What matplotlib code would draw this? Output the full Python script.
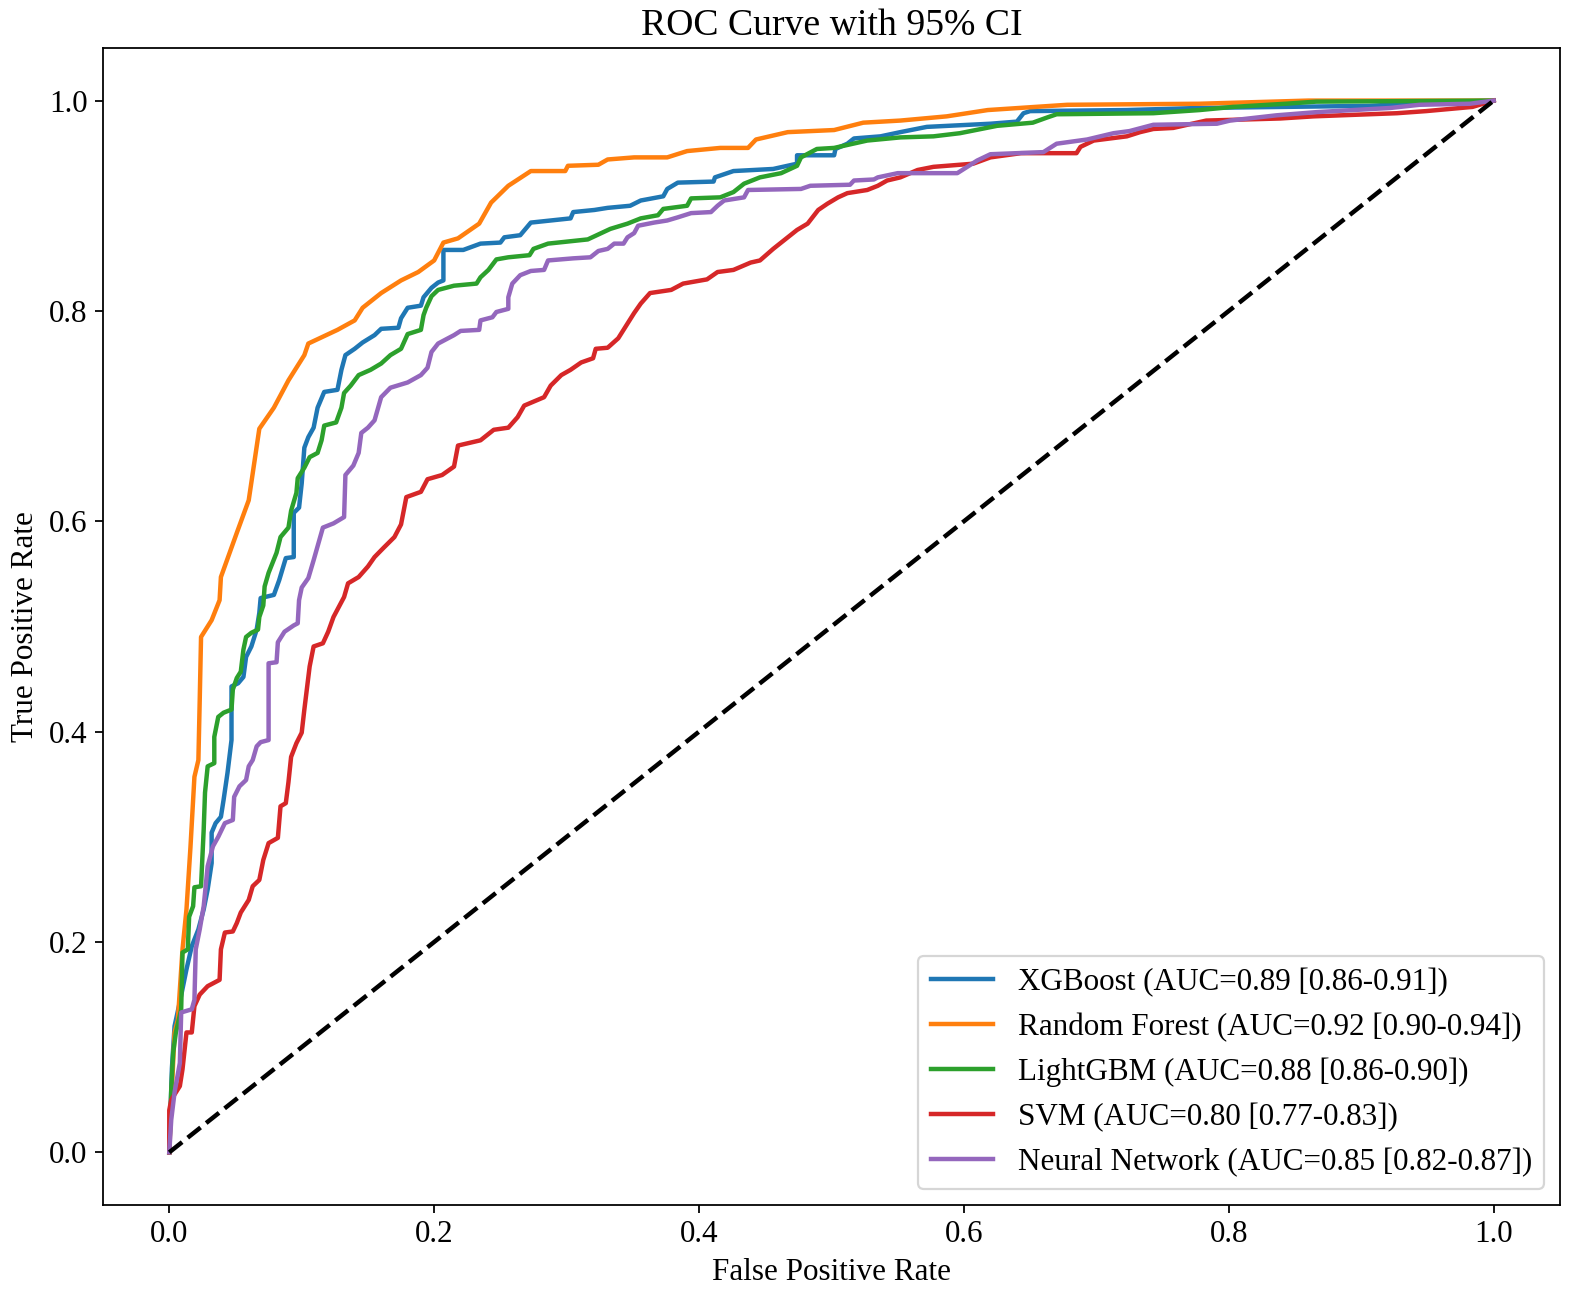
import matplotlib
matplotlib.use("Agg")
from matplotlib import pyplot as plt
import numpy as np

plt.rcParams["font.family"] = ["Liberation Serif", "DejaVu Serif"]

model_names = ["XGBoost", "Random Forest", "LightGBM", "SVM", "Neural Network"]
auc_text = ["0.89 [0.86-0.91]", "0.92 [0.90-0.94]", "0.88 [0.86-0.90]",
            "0.80 [0.77-0.83]", "0.85 [0.82-0.87]"]

# XGBoost (fpr, tpr)
xgb_roc = [
    (0, 0), (0.002, 0.08), (0.004, 0.12), (0.008, 0.143), (0.013, 0.174), (0.017, 0.196),
    (0.022, 0.212), (0.026, 0.231), (0.029, 0.25), (0.032, 0.275), (0.032, 0.304),
    (0.035, 0.313), (0.039, 0.319), (0.041, 0.335), (0.044, 0.361), (0.047, 0.392),
    (0.047, 0.443), (0.052, 0.446), (0.056, 0.452), (0.058, 0.471), (0.062, 0.481),
    (0.066, 0.497), (0.068, 0.513), (0.069, 0.527), (0.079, 0.53), (0.083, 0.544),
    (0.088, 0.565), (0.094, 0.566), (0.094, 0.608), (0.098, 0.613), (0.1, 0.636),
    (0.102, 0.67), (0.105, 0.68), (0.109, 0.689), (0.112, 0.708), (0.117, 0.723),
    (0.127, 0.725), (0.13, 0.744), (0.133, 0.758), (0.14, 0.764), (0.146, 0.77),
    (0.155, 0.777), (0.16, 0.783), (0.173, 0.784), (0.175, 0.793), (0.18, 0.803),
    (0.19, 0.805), (0.192, 0.813), (0.198, 0.822), (0.203, 0.827), (0.207, 0.829),
    (0.207, 0.858), (0.222, 0.858), (0.235, 0.864), (0.25, 0.865), (0.253, 0.87),
    (0.265, 0.872), (0.273, 0.884), (0.303, 0.888), (0.305, 0.894), (0.321, 0.896),
    (0.331, 0.898), (0.348, 0.9), (0.356, 0.905), (0.373, 0.909), (0.376, 0.916),
    (0.384, 0.922), (0.411, 0.923), (0.412, 0.927), (0.426, 0.933), (0.456, 0.935),
    (0.474, 0.94), (0.474, 0.948), (0.502, 0.948), (0.503, 0.954), (0.512, 0.959),
    (0.517, 0.964), (0.537, 0.966), (0.552, 0.970), (0.572, 0.975), (0.62, 0.978),
    (0.64, 0.98), (0.645, 0.988), (0.65, 0.99), (0.723, 0.991), (0.778, 0.993),
    (0.906, 0.995), (0.95, 0.998), (1.0, 1.0),
]

rf_roc = [
    (0, 0), (0.002, 0.06), (0.004, 0.114), (0.0065, 0.126), (0.01, 0.193), (0.013, 0.231),
    (0.016, 0.29), (0.019, 0.357), (0.022, 0.373), (0.023, 0.43), (0.024, 0.49),
    (0.032, 0.506), (0.038, 0.525), (0.039, 0.547), (0.051, 0.589), (0.06, 0.62),
    (0.068, 0.688), (0.079, 0.708), (0.09, 0.734), (0.102, 0.758), (0.105, 0.769),
    (0.127, 0.782), (0.14, 0.791), (0.146, 0.803), (0.16, 0.817), (0.175, 0.829),
    (0.188, 0.837), (0.2, 0.848), (0.207, 0.865), (0.218, 0.869), (0.234, 0.883),
    (0.243, 0.903), (0.256, 0.919), (0.273, 0.933), (0.299, 0.933), (0.301, 0.938),
    (0.324, 0.939), (0.331, 0.944), (0.351, 0.946), (0.376, 0.946), (0.391, 0.952),
    (0.416, 0.955), (0.437, 0.955), (0.443, 0.963), (0.467, 0.970), (0.502, 0.972),
    (0.524, 0.979), (0.552, 0.981), (0.587, 0.985), (0.618, 0.991), (0.678, 0.996),
    (0.778, 0.997), (0.86, 1.0), (1.0, 1.0),
]

lgbm_roc = [
    (0, 0), (0.0015, 0.06), (0.003, 0.095), (0.005, 0.114), (0.009, 0.136), (0.01, 0.19),
    (0.014, 0.193), (0.015, 0.224), (0.018, 0.234), (0.019, 0.252), (0.024, 0.253),
    (0.026, 0.307), (0.027, 0.342), (0.029, 0.367), (0.034, 0.37), (0.034, 0.395),
    (0.037, 0.414), (0.041, 0.418), (0.047, 0.421), (0.048, 0.44), (0.051, 0.451),
    (0.054, 0.457), (0.056, 0.478), (0.058, 0.49), (0.062, 0.494), (0.067, 0.497),
    (0.068, 0.509), (0.071, 0.52), (0.072, 0.538), (0.075, 0.551), (0.081, 0.57),
    (0.084, 0.585), (0.09, 0.594), (0.092, 0.61), (0.096, 0.627), (0.097, 0.641),
    (0.102, 0.651), (0.106, 0.661), (0.112, 0.665), (0.115, 0.677), (0.117, 0.691),
    (0.126, 0.694), (0.13, 0.708), (0.132, 0.722), (0.137, 0.729), (0.143, 0.739),
    (0.152, 0.744), (0.16, 0.75), (0.167, 0.758), (0.175, 0.764), (0.18, 0.778),
    (0.19, 0.782), (0.192, 0.796), (0.194, 0.803), (0.198, 0.814), (0.203, 0.82),
    (0.215, 0.824), (0.232, 0.826), (0.235, 0.832), (0.241, 0.839), (0.247, 0.849),
    (0.256, 0.851), (0.272, 0.853), (0.275, 0.859), (0.286, 0.864), (0.316, 0.868),
    (0.333, 0.878), (0.346, 0.883), (0.356, 0.888), (0.369, 0.891), (0.373, 0.897),
    (0.391, 0.9), (0.394, 0.907), (0.416, 0.908), (0.426, 0.913), (0.434, 0.921),
    (0.446, 0.927), (0.462, 0.931), (0.474, 0.938), (0.477, 0.946), (0.489, 0.954),
    (0.502, 0.955), (0.527, 0.962), (0.552, 0.965), (0.577, 0.966), (0.597, 0.969),
    (0.625, 0.976), (0.652, 0.979), (0.663, 0.984), (0.67, 0.987), (0.743, 0.988),
    (0.778, 0.991), (0.803, 0.994), (0.843, 0.997), (0.866, 0.999), (1.0, 1.0),
]

svm_roc = [
    (0, 0), (0.0, 0.04), (0.0015, 0.05), (0.008, 0.063), (0.01, 0.079), (0.013, 0.114),
    (0.017, 0.114), (0.019, 0.139), (0.023, 0.15), (0.029, 0.158), (0.038, 0.164),
    (0.039, 0.193), (0.042, 0.209), (0.048, 0.21), (0.051, 0.218), (0.054, 0.228),
    (0.06, 0.24), (0.063, 0.253), (0.068, 0.259), (0.071, 0.278), (0.075, 0.294),
    (0.082, 0.299), (0.084, 0.329), (0.088, 0.332), (0.09, 0.352), (0.092, 0.376),
    (0.096, 0.389), (0.1, 0.399), (0.102, 0.421), (0.106, 0.462), (0.109, 0.481),
    (0.116, 0.484), (0.12, 0.495), (0.124, 0.509), (0.132, 0.528), (0.135, 0.541),
    (0.143, 0.547), (0.15, 0.557), (0.155, 0.566), (0.162, 0.575), (0.17, 0.585),
    (0.175, 0.597), (0.179, 0.623), (0.19, 0.628), (0.195, 0.64), (0.206, 0.644),
    (0.215, 0.652), (0.218, 0.672), (0.235, 0.677), (0.245, 0.687), (0.256, 0.689),
    (0.263, 0.699), (0.268, 0.71), (0.283, 0.718), (0.288, 0.729), (0.296, 0.739),
    (0.303, 0.744), (0.311, 0.751), (0.32, 0.755), (0.322, 0.764), (0.331, 0.765),
    (0.339, 0.774), (0.343, 0.782), (0.351, 0.798), (0.356, 0.807), (0.363, 0.817),
    (0.379, 0.82), (0.388, 0.826), (0.406, 0.83), (0.414, 0.837), (0.426, 0.839),
    (0.439, 0.846), (0.446, 0.848), (0.456, 0.859), (0.464, 0.867), (0.474, 0.877),
    (0.482, 0.883), (0.49, 0.896), (0.497, 0.902), (0.505, 0.908), (0.512, 0.912),
    (0.527, 0.915), (0.535, 0.919), (0.542, 0.924), (0.552, 0.927), (0.565, 0.934),
    (0.577, 0.937), (0.607, 0.94), (0.62, 0.946), (0.643, 0.95), (0.685, 0.95),
    (0.688, 0.956), (0.698, 0.962), (0.723, 0.966), (0.733, 0.97), (0.743, 0.973),
    (0.758, 0.974), (0.783, 0.981), (0.839, 0.983), (0.864, 0.985), (0.927, 0.988),
    (0.949, 0.99), (0.984, 0.994), (1.0, 1.0),
]

nn_roc = [
    (0, 0), (0.0015, 0.031), (0.004, 0.057), (0.008, 0.085), (0.009, 0.133),
    (0.017, 0.136), (0.019, 0.145), (0.02, 0.193), (0.023, 0.212), (0.026, 0.234),
    (0.029, 0.272), (0.033, 0.291), (0.037, 0.3), (0.042, 0.313), (0.048, 0.316),
    (0.049, 0.338), (0.053, 0.348), (0.058, 0.354), (0.06, 0.367), (0.063, 0.373),
    (0.066, 0.386), (0.069, 0.39), (0.075, 0.392), (0.075, 0.465), (0.081, 0.466),
    (0.082, 0.485), (0.087, 0.495), (0.094, 0.501), (0.097, 0.503), (0.098, 0.525),
    (0.1, 0.537), (0.105, 0.546), (0.109, 0.563), (0.116, 0.594), (0.124, 0.598),
    (0.132, 0.604), (0.133, 0.644), (0.139, 0.653), (0.143, 0.665), (0.145, 0.684),
    (0.15, 0.689), (0.155, 0.696), (0.16, 0.718), (0.167, 0.727), (0.18, 0.732),
    (0.19, 0.739), (0.195, 0.746), (0.198, 0.761), (0.203, 0.769), (0.215, 0.777),
    (0.22, 0.781), (0.234, 0.782), (0.235, 0.791), (0.244, 0.794), (0.247, 0.799),
    (0.256, 0.802), (0.256, 0.813), (0.259, 0.826), (0.265, 0.834), (0.273, 0.838),
    (0.283, 0.839), (0.286, 0.848), (0.305, 0.85), (0.318, 0.851), (0.324, 0.857),
    (0.331, 0.859), (0.336, 0.864), (0.343, 0.864), (0.346, 0.87), (0.351, 0.874),
    (0.354, 0.881), (0.366, 0.884), (0.376, 0.886), (0.384, 0.889), (0.394, 0.893),
    (0.409, 0.894), (0.414, 0.9), (0.419, 0.905), (0.434, 0.908), (0.437, 0.915),
    (0.477, 0.916), (0.484, 0.919), (0.514, 0.92), (0.517, 0.924), (0.532, 0.925),
    (0.535, 0.927), (0.55, 0.931), (0.595, 0.931), (0.61, 0.943), (0.62, 0.949),
    (0.66, 0.951), (0.67, 0.959), (0.693, 0.963), (0.713, 0.969), (0.725, 0.971),
    (0.743, 0.977), (0.791, 0.978), (0.801, 0.981), (0.836, 0.986), (0.866, 0.989),
    (0.922, 0.993), (0.944, 0.996), (0.982, 0.997), (1.0, 1.0),
]

curves = [xgb_roc, rf_roc, lgbm_roc, svm_roc, nn_roc]

fig = plt.figure(figsize=(1595 / 160, 1315 / 160), dpi=160)
ax = fig.add_axes([0.0646, 0.0837, 0.9134, 0.8798])

for name, auc, pts in zip(model_names, auc_text, curves):
    pts = np.array(pts)
    ax.plot(pts[:, 0], pts[:, 1], lw=2, label=f"{name} (AUC={auc})")

ax.plot([0, 1], [0, 1], "k--", lw=2)

ax.set_xlim(-0.05, 1.05)
ax.set_ylim(-0.05, 1.05)
ax.set_xlabel("False Positive Rate", fontsize=14)
ax.set_ylabel("True Positive Rate", fontsize=14)
ax.set_title("ROC Curve with 95% CI", fontsize=17)
ax.tick_params(labelsize=14)
ax.legend(loc="lower right", fontsize=14)

fig.savefig("out.png", dpi=160)
